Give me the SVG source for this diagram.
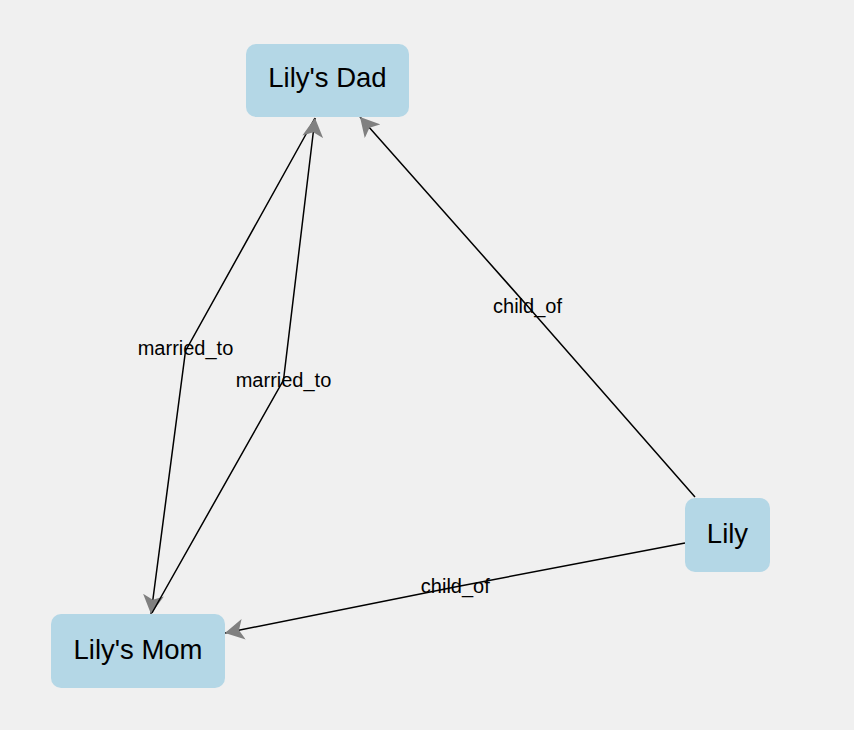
<svg xmlns="http://www.w3.org/2000/svg" width="854" height="730" viewBox="0 0 854 730">
  <defs>
    <marker id="arrow" viewBox="0 -5.5 10 11" refX="10" refY="0" markerUnits="userSpaceOnUse" markerWidth="19" markerHeight="20.9" orient="auto">
      <path d="M0,-5.5L10,0L0,5.5L2.5,0Z" fill="#808080"/>
    </marker>
  </defs>
  <style>
    .edge { fill: none; stroke: #000; stroke-width: 1.5; marker-end: url(#arrow); }
    .node rect { fill: #b4d7e6; }
    .node text { font-family: "Liberation Sans", Arial, sans-serif; font-size: 27.5px; fill: #000; text-anchor: middle; }
    .label { font-family: "Liberation Sans", Arial, sans-serif; font-size: 20px; fill: #000; text-anchor: middle; }
  </style>
  <rect x="0" y="0" width="854" height="730" fill="#f0f0f0"/>
  <g id="connectors">
    <path class="edge" d="M315,118 L185.5,351 L151,614"/>
    <path class="edge" d="M152,613 L283.5,380 L315,118"/>
    <path class="edge" d="M695,497 L527.5,306 L360,117"/>
    <path class="edge" d="M685,543 L455,587 L225,633"/>
    <text class="label" x="185.5" y="355">married_to</text>
    <text class="label" x="283.5" y="387">married_to</text>
    <text class="label" x="527.5" y="313">child_of</text>
    <text class="label" x="455.3" y="593">child_of</text>
  </g>
  <g id="node-dad" class="node">
    <rect x="246" y="44" width="163" height="73" rx="10"/>
    <text x="327.5" y="87">Lily's Dad</text>
  </g>
  <g id="node-mom" class="node">
    <rect x="51" y="614" width="174" height="74" rx="10"/>
    <text x="138" y="659">Lily's Mom</text>
  </g>
  <g id="node-lily" class="node">
    <rect x="685" y="498" width="85" height="74" rx="10"/>
    <text x="727.5" y="543">Lily</text>
  </g>
</svg>
